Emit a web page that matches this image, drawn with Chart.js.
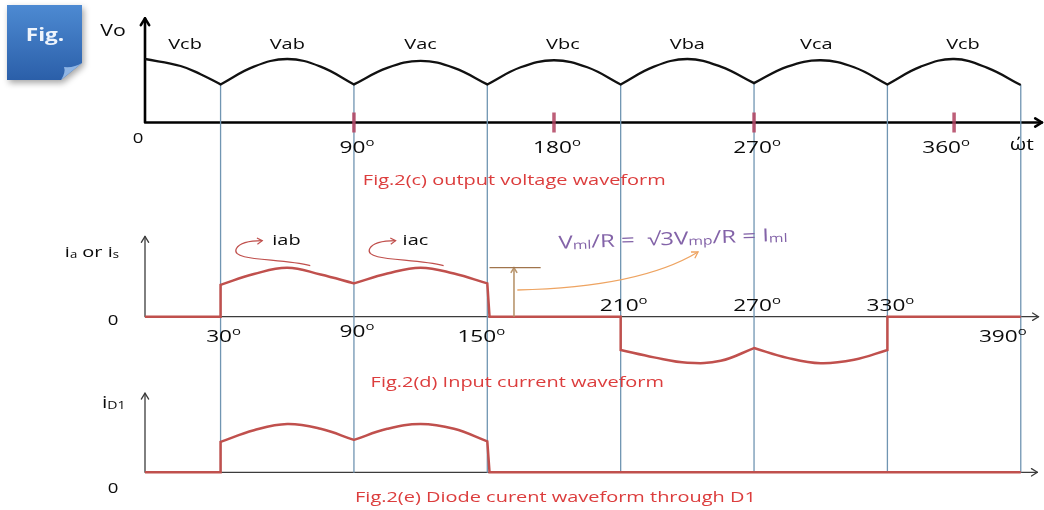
<!DOCTYPE html>
<html>
<head>
<meta charset="utf-8">
<title>Fig.2 waveforms</title>
<script src="https://cdn.jsdelivr.net/npm/chart.js@4.4.1/dist/chart.umd.min.js"></script>
<style>
  html, body { margin: 0; padding: 0; background: #fff; }
  #box { position: relative; width: 1044px; height: 510px; }
</style>
</head>
<body>
<div id="box"><canvas id="waves"></canvas></div>
<script>
// output voltage, one list per line-to-line segment (x in degrees, y per unit of peak)
var voNames = ["Vcb", "Vab", "Vac", "Vbc", "Vba", "Vca", "Vcb"];
var voNameDeg = [14, 60, 120, 184, 240, 298, 364];
var voDeg = [[-4, 12, 21, 30], [30, 45, 60, 75, 90], [90, 105, 120, 135, 150], [150, 165, 180, 195, 210],
             [210, 225, 240, 255, 270], [270, 285, 300, 315, 330], [330, 345, 360, 375, 390]];
var voVal = [[1.0, 0.89, 0.76, 0.6], [0.6, 0.88, 1.0, 0.88, 0.6], [0.6, 0.86, 0.97, 0.86, 0.6], [0.6, 0.87, 0.98, 0.87, 0.6],
             [0.6, 0.88, 1.0, 0.88, 0.62], [0.62, 0.88, 0.98, 0.87, 0.6], [0.6, 0.88, 1.0, 0.86, 0.59]];

// input (line) current ia
var iaDeg = [[-4, 30], [30, 45, 60, 75, 90], [90, 105, 120, 135, 150], [151, 210],
             [210, 225, 240, 255, 270], [270, 285, 300, 315, 330], [330, 390]];
var iaVal = [[0, 0], [0.65, 0.87, 1.0, 0.86, 0.68], [0.68, 0.88, 1.0, 0.88, 0.68], [0, 0],
             [-0.68, -0.83, -0.94, -0.9, -0.64], [-0.64, -0.84, -0.95, -0.88, -0.68], [0, 0]];

// diode D1 current
var idDeg = [[-4, 30], [30, 45, 60, 75, 90], [90, 105, 120, 135, 150], [151, 390]];
var idVal = [[0, 0], [0.63, 0.87, 1.0, 0.9, 0.67], [0.67, 0.9, 1.0, 0.9, 0.64], [0, 0]];

var commDeg = [30, 90, 150, 210, 270, 330, 390];
var voTicks = [90, 180, 270, 360];
var iaTicks = [30, 90, 150, 210, 270, 330, 390];
var captions = ["Fig.2(c) output voltage waveform", "Fig.2(d) Input current waveform",
                "Fig.2(e) Diode curent waveform through D1"];

var SX = 1.33;                       // the figure is stretched sideways
var FONT = '"Open Sans", sans-serif';
var AXIS_TOP = 1.64;

// each segment keeps its ends doubled so the joins stay sharp with tension
function toPoints(degs, vals) {
  var pts = [];
  degs.forEach(function (piece, k) {
    piece.forEach(function (d, i) {
      pts.push({x: d, y: vals[k][i]});
      if (i === 0 || i === piece.length - 1) pts.push({x: d, y: vals[k][i]});
    });
  });
  return pts;
}

function valueAt(degs, vals, d) {
  for (var k = 0; k < degs.length; k++) {
    var i = degs[k].indexOf(d);
    if (i >= 0) return vals[k][i];
  }
  return 0;
}

function band(zeroPx, unitPx) {
  return {min: -(510 - zeroPx) / unitPx, max: zeroPx / unitPx};
}

// parts: [text, kind] kind 0 normal, 1 subscript, 2 superscript
function drawText(ctx, parts, x, y, size, color, align, opt) {
  opt = opt || {};
  ctx.save();
  ctx.translate(x, y);
  if (opt.rot) ctx.rotate(opt.rot);
  ctx.scale(SX, 1);
  ctx.fillStyle = color;
  ctx.textAlign = "left";
  ctx.textBaseline = "alphabetic";
  var items = [], w = 0;
  parts.forEach(function (p) {
    var kind = p[1] || 0;
    var f = (opt.bold ? "bold " : "") + (kind ? size * 0.66 : size) + "px " + FONT;
    ctx.font = f;
    items.push({t: p[0], f: f, x: w, dy: kind === 2 ? -size * 0.4 : (kind === 1 ? size * 0.06 : 0)});
    w += ctx.measureText(p[0]).width;
  });
  var x0 = align === "center" ? -w / 2 : (align === "right" ? -w : 0);
  items.forEach(function (it) {
    ctx.font = it.f;
    ctx.fillText(it.t, x0 + it.x, size * 0.36 + it.dy);
  });
  ctx.restore();
}

function arrow(ctx, x, y, ang, len) {
  ctx.beginPath();
  ctx.moveTo(x - len * Math.cos(ang - 0.55), y - len * Math.sin(ang - 0.55));
  ctx.lineTo(x, y);
  ctx.lineTo(x - len * Math.cos(ang + 0.55), y - len * Math.sin(ang + 0.55));
  ctx.stroke();
}

function degLabel(d) {
  return [[String(d)], ["o", 2]];
}

function drawBadge(ctx) {
  ctx.save();
  ctx.shadowColor = "rgba(0,0,0,0.35)";
  ctx.shadowBlur = 6;
  ctx.shadowOffsetX = 2;
  ctx.shadowOffsetY = 3;
  var g = ctx.createLinearGradient(0, 5, 0, 80);
  g.addColorStop(0, "#4d8ad2");
  g.addColorStop(1, "#2b5fa9");
  ctx.fillStyle = g;
  ctx.beginPath();
  ctx.moveTo(7, 5); ctx.lineTo(82, 5); ctx.lineTo(82, 63); ctx.lineTo(61, 80); ctx.lineTo(7, 80);
  ctx.closePath();
  ctx.fill();
  ctx.restore();
  ctx.fillStyle = "#8fb5e4";
  ctx.beginPath();
  ctx.moveTo(61, 80); ctx.quadraticCurveTo(66, 72, 64, 67); ctx.quadraticCurveTo(74, 68, 82, 63);
  ctx.closePath();
  ctx.fill();
  drawText(ctx, [["Fig."]], 45, 35, 17, "#eef4fc", "center", {bold: true});
}

var wavePlugin = {
  id: "waves",
  beforeDatasetsDraw: function (chart) {
    var ctx = chart.ctx, s = chart.scales;
    function X(v) { return s.x.getPixelForValue(v); }
    var ox = X(-4);
    drawBadge(ctx);
    ctx.save();
    ctx.lineCap = "round";
    ctx.lineJoin = "round";
    // top axes
    ctx.strokeStyle = "#000";
    ctx.lineWidth = 2.6;
    var y0 = s.yV.getPixelForValue(0);
    ctx.beginPath();
    ctx.moveTo(ox, s.yV.getPixelForValue(AXIS_TOP));
    ctx.lineTo(ox, y0);
    ctx.lineTo(chart.width - 2, y0);
    ctx.stroke();
    arrow(ctx, ox, s.yV.getPixelForValue(AXIS_TOP), -Math.PI / 2, 8);
    arrow(ctx, chart.width - 2, y0, 0, 8);
    // current axes
    ctx.strokeStyle = "#3c3c3c";
    ctx.lineWidth = 1.3;
    [[s.yI, 398], [s.yD, 397.5]].forEach(function (a) {
      var yb = a[0].getPixelForValue(0), yt = a[0].getPixelForValue(AXIS_TOP);
      ctx.beginPath();
      ctx.moveTo(ox, yt);
      ctx.lineTo(ox, yb);
      ctx.lineTo(X(a[1]), yb);
      ctx.stroke();
      arrow(ctx, ox, yt, -Math.PI / 2, 7);
      arrow(ctx, X(a[1]), yb, 0, 7);
    });
    // commutation instants
    ctx.strokeStyle = "#7095b2";
    ctx.lineWidth = 1.3;
    commDeg.forEach(function (d) {
      ctx.beginPath();
      ctx.moveTo(X(d), s.yV.getPixelForValue(valueAt(voDeg, voVal, d)));
      ctx.lineTo(X(d), s.yD.getPixelForValue(0));
      ctx.stroke();
    });
    ctx.restore();
  },
  afterDatasetsDraw: function (chart) {
    var ctx = chart.ctx, s = chart.scales;
    function X(v) { return s.x.getPixelForValue(v); }
    function YV(v) { return s.yV.getPixelForValue(v); }
    function YI(v) { return s.yI.getPixelForValue(v); }
    function YD(v) { return s.yD.getPixelForValue(v); }
    var ox = X(-4);
    var black = "#0a0a0a", red = "#dc3d3d";

    // --- output voltage ---
    ctx.save();
    ctx.strokeStyle = "rgba(178,66,96,0.85)";
    ctx.lineWidth = 3.5;
    voTicks.forEach(function (d) {
      ctx.beginPath();
      ctx.moveTo(X(d), YV(0) - 10);
      ctx.lineTo(X(d), YV(0) + 10);
      ctx.stroke();
    });
    ctx.restore();
    drawText(ctx, [["Vo"]], ox - 32, YV(1.46), 16, black, "center");
    drawText(ctx, [["0"]], ox - 7, YV(0) + 15, 14, black, "center");
    voNames.forEach(function (n, i) {
      drawText(ctx, [[n]], X(voNameDeg[i]), YV(1) - 15, 15, black, "center");
    });
    var topNudge = {360: -8};
    voTicks.forEach(function (d) {
      drawText(ctx, degLabel(d), X(d) + (topNudge[d] || 3), YV(0) + 24.5, 17, black, "center");
    });
    drawText(ctx, [["ώt"]], X(390.5), YV(0) + 22, 16, black, "center");
    drawText(ctx, [[captions[0]]], X(94), YV(0) + 57.5, 15, red, "left");

    // --- input current ---
    drawText(ctx, [["i"], ["a", 1], [" or i"], ["s", 1]], ox - 26, YI(1.32), 15, black, "right");
    drawText(ctx, [["0"]], ox - 32, YI(0) + 3, 14, black, "center");
    var above = {210: 1, 270: 1, 330: 1};
    var midNudge = {150: -6, 390: -18};
    iaTicks.forEach(function (d) {
      var y = above[d] ? YI(0) - 12 : YI(0) + (d === 90 ? 14 : 19);
      drawText(ctx, degLabel(d), X(d) + (midNudge[d] || 3), y, 17, black, "center");
    });
    drawText(ctx, [["iab"]], X(60) - 15, YI(1.57), 15, black, "left");
    drawText(ctx, [["iac"]], X(120) - 18, YI(1.57), 15, black, "left");

    // curled pointers from the current to iab / iac
    ctx.save();
    ctx.strokeStyle = "#c0504d";
    ctx.lineWidth = 1.2;
    [60, 120].forEach(function (d) {
      var ax = X(d), ay = YI(1);
      ctx.beginPath();
      ctx.moveTo(ax + 23, ay - 2);
      ctx.bezierCurveTo(ax - 7, ay - 10, ax - 57, ay - 6, ax - 51, ay - 19);
      ctx.bezierCurveTo(ax - 47, ay - 26, ax - 35, ay - 27, ax - 25, ay - 27);
      ctx.stroke();
      arrow(ctx, ax - 25, ay - 27, -0.08, 6);
    });
    ctx.restore();

    // peak current marker and its note
    ctx.save();
    ctx.lineWidth = 1.6;
    ctx.strokeStyle = "#b8956d";
    ctx.beginPath();
    ctx.moveTo(X(162), YI(0));
    ctx.lineTo(X(162), YI(1));
    ctx.stroke();
    arrow(ctx, X(162), YI(1), -Math.PI / 2, 6);
    ctx.strokeStyle = "#a0744c";
    ctx.lineWidth = 1.2;
    ctx.beginPath();
    ctx.moveTo(X(151), YI(1));
    ctx.lineTo(X(174), YI(1));
    ctx.stroke();
    ctx.strokeStyle = "#eea462";
    ctx.lineWidth = 1.3;
    var ex = X(244.8), ey = YI(1.32), cx = X(218.7), cy = YI(0.6);
    ctx.beginPath();
    ctx.moveTo(X(163.5), YI(0.545));
    ctx.quadraticCurveTo(cx, cy, ex, ey);
    ctx.stroke();
    arrow(ctx, ex, ey, Math.atan2(ey - cy, ex - cx), 7);
    ctx.restore();
    drawText(ctx, [["V"], ["ml", 1], ["/R =  √3V"], ["mp", 1], ["/R = I"], ["ml", 1]],
      X(182), YI(1.52), 18, "#8363a8", "left", {rot: -0.035});
    drawText(ctx, [[captions[1]]], X(97.5), YI(0) + 65, 15, red, "left");

    // --- diode current ---
    drawText(ctx, [["i"], ["D1", 1]], ox - 43, YD(1.45), 16, black, "left");
    drawText(ctx, [["0"]], ox - 32, YD(0) + 16, 14, black, "center");
    drawText(ctx, [[captions[2]]], X(90.5), YD(0) + 24, 15, red, "left");
  }
};

new Chart("waves", {
  type: "line",
  data: {
    datasets: [{
      data: toPoints(voDeg, voVal),
      yAxisID: "yV",
      borderColor: "#111",
      borderWidth: 2.3,
      tension: 0.4
    }, {
      data: toPoints(iaDeg, iaVal),
      yAxisID: "yI",
      borderColor: "#c0504d",
      borderWidth: 2.5,
      tension: 0.4
    }, {
      data: toPoints(idDeg, idVal),
      yAxisID: "yD",
      borderColor: "#c0504d",
      borderWidth: 2.5,
      tension: 0.4
    }]
  },
  options: {
    responsive: true,
    maintainAspectRatio: false,
    animation: false,
    layout: { padding: { left: 145, right: 1, top: 0, bottom: 0 } },
    elements: { point: { radius: 0 } },
    plugins: { legend: { display: false }, tooltip: { enabled: false } },
    scales: {
      x: { type: "linear", min: -4, max: 400, display: false },
      yV: Object.assign({ type: "linear", display: false }, band(122.5, 63.5)),
      yI: Object.assign({ type: "linear", display: false }, band(316.7, 49)),
      yD: Object.assign({ type: "linear", display: false }, band(472.3, 48.3))
    }
  },
  plugins: [wavePlugin]
});
</script>
</body>
</html>
